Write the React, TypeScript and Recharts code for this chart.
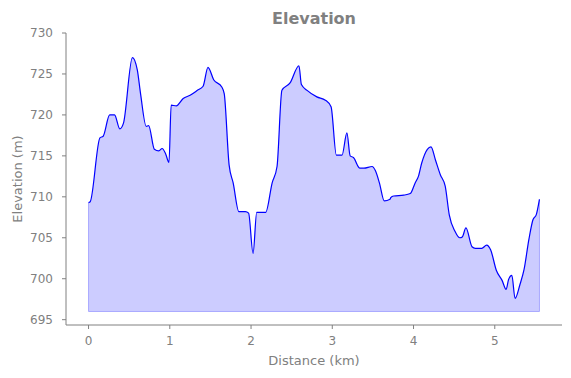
import {Area, ComposedChart, Line, ReferenceLine, XAxis, YAxis} from "recharts";

// distance along the route (km) and elevation (m)
const distanceKm = [
    0.00, 0.02, 0.14, 0.18, 0.26, 0.32, 0.385, 0.43, 0.54, 0.60,
    0.64, 0.71, 0.74, 0.81, 0.865, 0.906, 0.947, 0.99, 1.017, 1.08,
    1.165, 1.25, 1.34, 1.41, 1.47, 1.54, 1.64, 1.67, 1.73, 1.78,
    1.85, 1.93, 1.97, 2.025, 2.07, 2.18, 2.26, 2.32, 2.38, 2.48,
    2.59, 2.62, 2.69, 2.81, 2.915, 2.985, 3.05, 3.12, 3.18, 3.22,
    3.26, 3.34, 3.39, 3.49, 3.53, 3.58, 3.64, 3.71, 3.72, 3.755,
    3.88, 3.96, 4.02, 4.06, 4.10, 4.17, 4.215, 4.27, 4.33, 4.39,
    4.44, 4.51, 4.57, 4.60, 4.645, 4.72, 4.76, 4.84, 4.90, 4.95,
    5.02, 5.09, 5.14, 5.17, 5.21, 5.25, 5.31, 5.36, 5.42, 5.47,
    5.51, 5.55,
];
const elevationM = [
    709.3, 709.4, 717.2, 717.4, 720.0, 720.0, 718.3, 719.0, 727.0, 725.5,
    722.6, 718.6, 718.7, 715.8, 715.6, 715.9, 715.3, 714.2, 721.2, 721.1,
    722.0, 722.4, 723.0, 723.5, 725.8, 724.3, 723.4, 722.6, 713.9, 711.7,
    708.2, 708.2, 708.0, 703.1, 708.1, 708.1, 711.7, 713.7, 723.0, 723.9,
    726.0, 723.7, 723.0, 722.2, 721.8, 721.0, 715.1, 715.1, 717.8, 715.0,
    714.8, 713.5, 713.5, 713.7, 713.2, 711.7, 709.5, 709.7, 709.9, 710.1,
    710.2, 710.4, 711.7, 712.5, 714.1, 715.8, 716.1, 714.5, 712.7, 711.3,
    707.8, 705.8, 705.0, 705.1, 706.2, 703.9, 703.7, 703.7, 704.1, 703.5,
    701.0, 699.8, 698.7, 699.9, 700.4, 697.6, 699.3, 701.1, 704.8, 707.2,
    707.8, 709.7,
];
const fillBase = 696;
const xTicks = [0, 1, 2, 3, 4, 5];
const yTicks = [695, 700, 705, 710, 715, 720, 725, 730];

const FONT = "DejaVu Sans";
const GREY = "#808080";

function App() {
    const data = distanceKm.map((d, i) => ({d, ele: elevationM[i]}));
    const first = distanceKm[0];
    const last = distanceKm[distanceKm.length - 1];
    const tick = {fill: GREY, fontSize: 12, fontFamily: FONT};

    return (
        <div style={{position: "absolute", left: 0, top: 0, background: "#fff"}}>
            <ComposedChart
                width={571}
                height={378}
                data={data}
                margin={{top: 33, right: 9, bottom: 8, left: 0}}
            >
                <XAxis
                    type="number"
                    dataKey="d"
                    domain={[-0.2775, 5.8275]}
                    ticks={xTicks}
                    allowDataOverflow
                    height={45}
                    tickSize={4}
                    tickMargin={7}
                    stroke={GREY}
                    tick={tick}
                    label={{
                        value: "Distance (km)",
                        position: "insideBottom",
                        offset: 5,
                        fill: GREY,
                        fontSize: 13,
                        fontFamily: FONT,
                    }}
                />
                <YAxis
                    type="number"
                    domain={[694.35, 730]}
                    ticks={yTicks}
                    allowDataOverflow
                    width={66}
                    tickSize={4}
                    tickMargin={9}
                    stroke={GREY}
                    tick={tick}
                />
                <Area
                    dataKey="ele"
                    type="monotone"
                    baseValue={fillBase}
                    fill="#0000ff"
                    fillOpacity={0.2}
                    stroke="none"
                    isAnimationActive={false}
                />
                <ReferenceLine
                    segment={[{x: first, y: fillBase}, {x: last, y: fillBase}]}
                    stroke="#aaaaff"
                    strokeWidth={1}
                />
                <ReferenceLine
                    segment={[{x: first, y: fillBase}, {x: first, y: elevationM[0]}]}
                    stroke="#aaaaff"
                    strokeWidth={1}
                />
                <ReferenceLine
                    segment={[{x: last, y: fillBase}, {x: last, y: elevationM[elevationM.length - 1]}]}
                    stroke="#aaaaff"
                    strokeWidth={1}
                />
                <Line
                    dataKey="ele"
                    type="monotone"
                    stroke="#0000ff"
                    strokeWidth={1.2}
                    dot={false}
                    isAnimationActive={false}
                />
                <text
                    x={314}
                    y={18}
                    textAnchor="middle"
                    dominantBaseline="central"
                    fill={GREY}
                    fontSize={16}
                    fontWeight="bold"
                    fontFamily={FONT}
                >
                    Elevation
                </text>
                <text
                    x={17}
                    y={179}
                    transform="rotate(-90, 17, 179)"
                    textAnchor="middle"
                    dominantBaseline="central"
                    fill={GREY}
                    fontSize={13}
                    fontFamily={FONT}
                >
                    Elevation (m)
                </text>
            </ComposedChart>
        </div>
    );
}

export default App;
